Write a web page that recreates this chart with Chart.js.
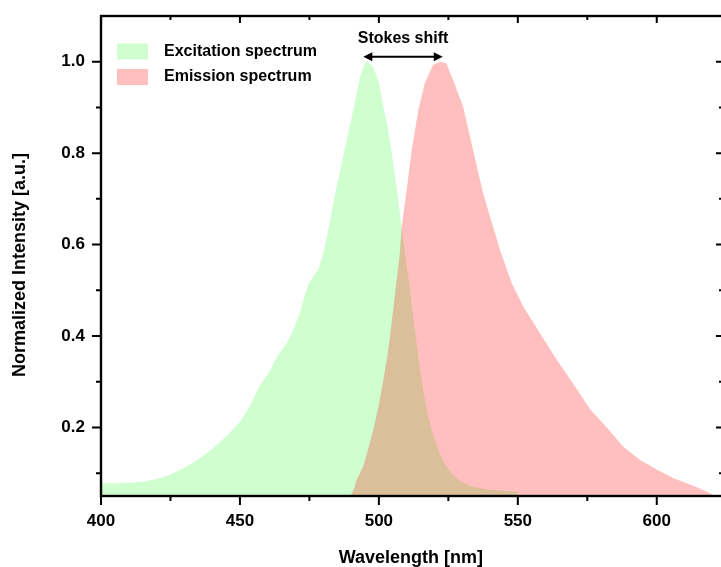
<!DOCTYPE html>
<html>
<head>
<meta charset="utf-8">
<script src="https://cdn.jsdelivr.net/npm/chart.js@4/dist/chart.umd.min.js"></script>
<style>
  html, body { margin: 0; padding: 0; background: #ffffff; overflow: hidden; }
  #wrap { width: 721px; height: 567px; overflow: hidden; position: relative; }
  canvas { display: block; }
</style>
</head>
<body>
<div id="wrap"><canvas id="c" width="726" height="567"></canvas></div>
<script>
// ---- Data ----
const excitationLabel = "Excitation spectrum";
const excitationWavelengths = [400,405,410,415,420,425,430,435,440,445,450,453.5,457,461,463,466.5,469,471.5,474.5,476.5,478.2,480,481.8,484.5,486,488.4,490.8,493.2,495,496,498,500,502,503,505,506.5,508,509.5,510.8,512.8,515,516.3,517.6,519.2,521,523,526,529,533,538,544,550];
const excitationValues      = [0.078,0.078,0.079,0.081,0.087,0.097,0.112,0.130,0.153,0.180,0.212,0.246,0.290,0.326,0.352,0.381,0.410,0.450,0.512,0.532,0.545,0.581,0.632,0.720,0.760,0.829,0.894,0.967,0.995,1.0,0.988,0.955,0.890,0.862,0.785,0.720,0.645,0.575,0.520,0.420,0.320,0.270,0.230,0.190,0.158,0.128,0.100,0.084,0.072,0.065,0.062,0.060];

const emissionLabel = "Emission spectrum";
const emissionWavelengths = [490,491,492,494.4,496,498,500,501.6,503,504,505,506.4,507.5,508.2,510,511.8,514.2,516.5,519.5,522,524.3,526.7,530.3,533.9,537.5,540,543.6,547.8,552,558,564,570,576,582,588,594,600,606,612,618,620];
const emissionValues      = [0.053,0.065,0.085,0.115,0.150,0.195,0.250,0.304,0.355,0.400,0.450,0.523,0.580,0.639,0.720,0.807,0.894,0.953,0.993,1.0,0.996,0.960,0.902,0.807,0.712,0.661,0.588,0.516,0.464,0.406,0.348,0.295,0.240,0.200,0.158,0.129,0.108,0.089,0.075,0.060,0.053];

const xTicks = [400, 450, 500, 550, 600];
const xMinorTicks = [425, 475, 525, 575];
const yTicks = [0.2, 0.4, 0.6, 0.8, 1.0];
const yMinorTicks = [0.1, 0.3, 0.5, 0.7, 0.9];

const xTitle = "Wavelength [nm]";
const yTitle = "Normalized Intensity [a.u.]";
const stokesLabel = "Stokes shift";
const stokesFrom = 494.4;   // excitation peak (nm)
const stokesTo = 523.0;     // emission peak (nm)
const stokesY = 1.011;

const FONT = "'Liberation Sans', Arial, sans-serif";

function toPoints(xs, ys) { return xs.map((x, i) => ({x: x, y: ys[i]})); }
function zeroPad(s) { s.paddingTop = 0; s.paddingBottom = 0; s.paddingLeft = 0; s.paddingRight = 0; }

const framePlugin = {
  id: 'frame',
  afterDraw(chart) {
    const ctx = chart.ctx;
    const a = chart.chartArea;
    const xs = chart.scales.x, ys = chart.scales.y;
    ctx.save();
    ctx.strokeStyle = '#000';
    ctx.lineWidth = 2.4;
    ctx.strokeRect(a.left, a.top, a.right - a.left, a.bottom - a.top);
    ctx.lineWidth = 2;
    ctx.beginPath();
    xTicks.forEach(v => {
      const p = xs.getPixelForValue(v);
      ctx.moveTo(p, a.bottom); ctx.lineTo(p, a.bottom + 9);
      ctx.moveTo(p, a.top); ctx.lineTo(p, a.top + 7);
    });
    xMinorTicks.forEach(v => {
      const p = xs.getPixelForValue(v);
      ctx.moveTo(p, a.bottom); ctx.lineTo(p, a.bottom + 5);
      ctx.moveTo(p, a.top); ctx.lineTo(p, a.top + 4);
    });
    yTicks.forEach(v => {
      const p = ys.getPixelForValue(v);
      ctx.moveTo(a.left, p); ctx.lineTo(a.left - 9, p);
      ctx.moveTo(a.right, p); ctx.lineTo(a.right - 8, p);
    });
    yMinorTicks.forEach(v => {
      const p = ys.getPixelForValue(v);
      ctx.moveTo(a.left, p); ctx.lineTo(a.left - 5, p);
      ctx.moveTo(a.right, p); ctx.lineTo(a.right - 5, p);
    });
    ctx.stroke();

    // axis titles
    ctx.fillStyle = '#000';
    ctx.font = "bold 18px " + FONT;
    ctx.textAlign = 'center';
    ctx.textBaseline = 'middle';
    ctx.fillText(xTitle, xs.getPixelForValue(511.5), 558);
    ctx.save();
    ctx.translate(20, 265);
    ctx.rotate(-Math.PI / 2);
    ctx.fillText(yTitle, 0, 0);
    ctx.restore();

    // legend
    const ds = chart.data.datasets;
    const rows = [ {i: 0, y: 51.5}, {i: 1, y: 77} ];
    ctx.font = "bold 16px " + FONT;
    ctx.textAlign = 'left';
    rows.forEach(r => {
      const d = ds[r.i];
      ctx.fillStyle = d.backgroundColor;
      ctx.fillRect(117, r.y - 8, 31, 16);
      ctx.fillStyle = '#000';
      ctx.fillText(d.label, 164, r.y);
    });

    // Stokes shift arrow
    const x1 = xs.getPixelForValue(stokesFrom);
    const x2 = xs.getPixelForValue(stokesTo);
    const yy = ys.getPixelForValue(stokesY);
    ctx.strokeStyle = '#000';
    ctx.lineWidth = 2;
    ctx.beginPath();
    ctx.moveTo(x1 + 4, yy); ctx.lineTo(x2 - 4, yy);
    ctx.stroke();
    ctx.beginPath();
    ctx.moveTo(x1, yy); ctx.lineTo(x1 + 9, yy - 4.5); ctx.lineTo(x1 + 9, yy + 4.5); ctx.closePath();
    ctx.moveTo(x2, yy); ctx.lineTo(x2 - 9, yy - 4.5); ctx.lineTo(x2 - 9, yy + 4.5); ctx.closePath();
    ctx.fillStyle = '#000';
    ctx.fill();
    ctx.font = "bold 16px " + FONT;
    ctx.textAlign = 'center';
    ctx.textBaseline = 'middle';
    ctx.fillText(stokesLabel, (x1 + x2) / 2, 38.5);
    ctx.restore();
  }
};

new Chart(document.getElementById('c'), {
  type: 'line',
  data: {
    datasets: [
      {
        label: excitationLabel,
        data: toPoints(excitationWavelengths, excitationValues),
        backgroundColor: 'rgba(0,255,0,0.19)',
        borderColor: 'transparent',
        borderWidth: 0,
        pointRadius: 0,
        fill: 'start',
        tension: 0,
        order: 2
      },
      {
        label: emissionLabel,
        data: toPoints(emissionWavelengths, emissionValues),
        backgroundColor: 'rgba(255,0,0,0.25)',
        borderColor: 'transparent',
        borderWidth: 0,
        pointRadius: 0,
        fill: 'start',
        tension: 0,
        order: 1
      }
    ]
  },
  options: {
    responsive: false,
    animation: false,
    layout: { padding: { top: 16, right: 2, left: 0, bottom: 0 } },
    plugins: { legend: { display: false }, tooltip: { enabled: false } },
    scales: {
      x: {
        type: 'linear',
        min: 400,
        max: 624.2,
        afterBuildTicks: s => { s.ticks = xTicks.map(v => ({value: v})); },
        afterFit: s => { s.height = 71; zeroPad(s); },
        grid: { display: false, drawTicks: false },
        border: { display: false },
        ticks: {
          autoSkip: false,
          maxRotation: 0,
          padding: 15,
          color: '#000',
          font: { family: FONT, size: 17, weight: 'bold' },
          callback: v => String(v)
        }
      },
      y: {
        type: 'linear',
        min: 0.05,
        max: 1.1,
        afterBuildTicks: s => { s.ticks = yTicks.map(v => ({value: v})); },
        afterFit: s => { s.width = 101; zeroPad(s); },
        grid: { display: false, drawTicks: false },
        border: { display: false },
        ticks: {
          autoSkip: false,
          padding: 16,
          color: '#000',
          font: { family: FONT, size: 17, weight: 'bold' },
          callback: v => Number(v).toFixed(1)
        }
      }
    }
  },
  plugins: [framePlugin]
});
</script>
</body>
</html>
